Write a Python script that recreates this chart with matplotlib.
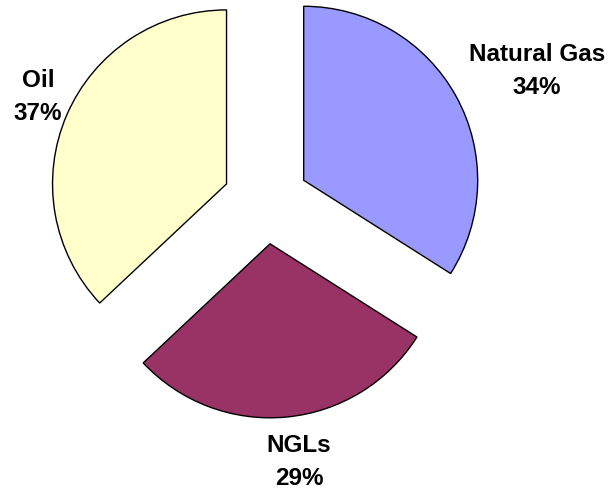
import matplotlib
matplotlib.use("Agg")
from matplotlib import pyplot as plt

# slice data, clockwise from 12 o'clock
labels = ["Natural Gas", "NGLs", "Oil"]
shares = [34, 29, 37]
colors = ["#9999FF", "#993366", "#FFFFCC"]

# label anchor points (pixels, y measured upward)
label_xy = [(537, 420), (299, 29), (38, 394)]

W, H = 615, 491
fig = plt.figure(figsize=(W / 100, H / 100), dpi=100)
ax = fig.add_axes([0, 0, 1, 1])
ax.set_xlim(0, W)
ax.set_ylim(0, H)
ax.set_aspect("equal")
ax.axis("off")

ax.pie(shares, colors=colors, startangle=90, counterclock=False,
       center=(266, 290), radius=174, explode=[43] * len(shares),
       wedgeprops=dict(edgecolor="black", linewidth=1.0))
ax.set_xlim(0, W)
ax.set_ylim(0, H)

for name, pct, (x, y) in zip(labels, shares, label_xy):
    ax.text(x, y, "{}\n{}%".format(name, pct), ha="center", va="center",
            fontsize=17.5, fontweight="bold", family="Liberation Sans",
            linespacing=1.55)

plt.savefig("out.png", dpi=100)
